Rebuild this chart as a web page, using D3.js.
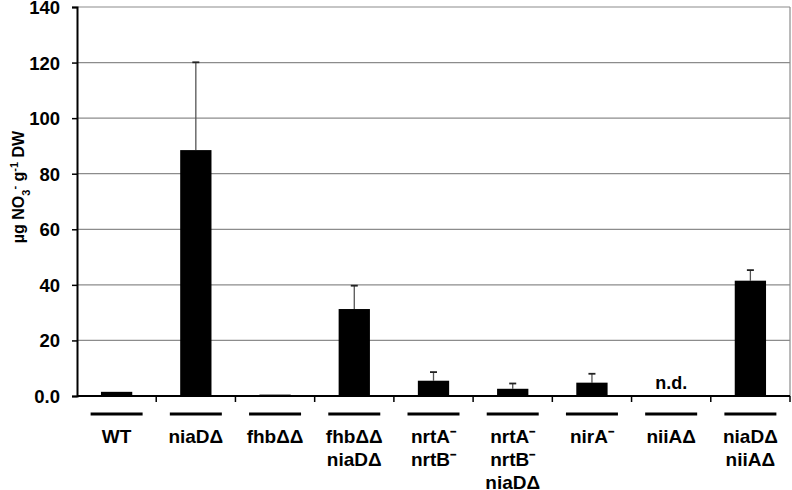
<!DOCTYPE html>
<html><head><meta charset="utf-8">
<script src="https://cdn.jsdelivr.net/npm/d3@7"></script>
<style>body{margin:0;background:#fff}svg{display:block}text{font-family:"Liberation Sans",Arial,sans-serif;font-weight:bold}</style>
</head><body>
<script>
const categories = [["WT"],["niaDΔ"],["fhbΔΔ"],["fhbΔΔ","niaDΔ"],["nrtA⁻","nrtB⁻"],["nrtA⁻","nrtB⁻","niaDΔ"],["nirA⁻"],["niiAΔ"],["niaDΔ","niiAΔ"]];
const values = [1.5, 88.5, 0.5, 31.3, 5.5, 2.6, 4.8, 0, 41.5];
const errors = [0, 31.6, 0, 8.4, 3.1, 1.9, 3.2, 0, 3.8];
const notDetected = [false,false,false,false,false,false,false,true,false];
const yTicks = [0,20,40,60,80,100,120,140];

const W=792,H=490;
const m={l:77,r:2,t:7,b:94};
const svg=d3.select("body").append("svg").attr("width",W).attr("height",H);
const x=d3.scaleBand().domain(d3.range(categories.length)).range([m.l,W-m.r]).paddingInner(0).paddingOuter(0);
const y=d3.scaleLinear().domain([0,140]).range([H-m.b,m.t]);
const bw=x.bandwidth()*0.395;

// gridlines
svg.append("g").selectAll("line").data(yTicks.slice(1)).join("line")
  .attr("x1",m.l).attr("x2",W-m.r).attr("y1",d=>y(d)).attr("y2",d=>y(d))
  .attr("stroke","#8c8c8c").attr("stroke-width",1.2);
// right border
svg.append("line").attr("x1",W-m.r).attr("x2",W-m.r).attr("y1",y(140)).attr("y2",y(0)).attr("stroke","#8c8c8c").attr("stroke-width",1.2);

// error bars
const eb=svg.append("g");
values.forEach((v,i)=>{
  if(!errors[i]) return;
  const cx=x(i)+x.bandwidth()/2;
  eb.append("line").attr("x1",cx).attr("x2",cx).attr("y1",y(v)).attr("y2",y(v+errors[i])).attr("stroke","#555").attr("stroke-width",1.3);
  eb.append("line").attr("x1",cx-3.5).attr("x2",cx+3.5).attr("y1",y(v+errors[i])).attr("y2",y(v+errors[i])).attr("stroke","#222").attr("stroke-width",1.8);
});

// bars
svg.append("g").selectAll("rect").data(values).join("rect")
  .attr("x",(d,i)=>x(i)+x.bandwidth()/2-bw/2).attr("width",bw)
  .attr("y",d=>y(d)).attr("height",d=>y(0)-y(d)).attr("fill","#000");

// n.d.
values.forEach((v,i)=>{
  if(notDetected[i]) svg.append("text").attr("x",x(i)+x.bandwidth()/2).attr("y",y(0)-7).attr("text-anchor","middle").attr("font-size",18).text("n.d.");
});

// y axis
const ya=svg.append("g").attr("transform",`translate(${m.l},0)`)
  .call(d3.axisLeft(y).tickValues(yTicks).tickSize(5).tickPadding(12).tickFormat(d=>d===0?"0.0":d));
ya.select(".domain").attr("stroke","#000").attr("stroke-width",2);
ya.selectAll(".tick line").attr("stroke","#000").attr("stroke-width",1.5);
ya.selectAll(".tick text").attr("font-size",18.5).attr("fill","#000").attr("font-family","Liberation Sans, Arial, sans-serif").attr("font-weight","bold").attr("dy","0.35em");

// x axis
const xa=svg.append("g").attr("transform",`translate(0,${y(0)})`);
xa.append("line").attr("x1",m.l).attr("x2",W-m.r).attr("stroke","#000").attr("stroke-width",2);
const bounds=d3.range(categories.length+1).map(i=>i<categories.length?x(i):W-m.r);
xa.selectAll("line.t").data(bounds.slice(1)).join("line").attr("class","t")
  .attr("x1",d=>d).attr("x2",d=>d).attr("y1",0).attr("y2",6).attr("stroke","#000").attr("stroke-width",1.5);

// category underline and labels
const lab=svg.append("g");
categories.forEach((c,i)=>{
  const cx=x(i)+x.bandwidth()/2;
  lab.append("line").attr("x1",cx-26).attr("x2",cx+26).attr("y1",414).attr("y2",414).attr("stroke","#000").attr("stroke-width",3);
  c.forEach((s,j)=>{
    lab.append("text").attr("x",cx).attr("y",443+j*23).attr("text-anchor","middle").attr("font-size",19).text(s);
  });
});

// y label
svg.append("text").attr("transform",`translate(24,187) rotate(-90)`).attr("text-anchor","middle").attr("font-size",16)
  .html('µg NO<tspan baseline-shift="sub" font-size="11">3</tspan><tspan baseline-shift="super" font-size="11">-</tspan> g<tspan baseline-shift="super" font-size="11">-1</tspan> DW');
</script>
</body></html>
